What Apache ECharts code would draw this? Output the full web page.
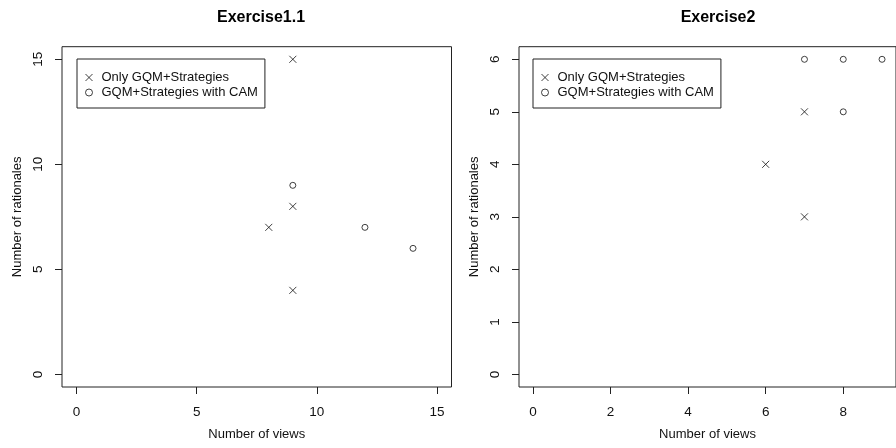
<!DOCTYPE html>
<html><head><meta charset="utf-8">
<script src="https://cdn.jsdelivr.net/npm/echarts@6/dist/echarts.min.js"></script>
<style>html,body{margin:0;padding:0;background:#fff}#c{width:896px;height:448px}</style>
</head><body><div id="c"></div>
<script>
// ---- data ----
const seriesNames = ['Only GQM+Strategies', 'GQM+Strategies with CAM'];
const titles = ['Exercise1.1', 'Exercise2'];
const xName = 'Number of views';
const yName = 'Number of rationales';

const ex1OnlyX = [9, 9, 8, 9];
const ex1OnlyY = [15, 8, 7, 4];
const ex1CamX = [9, 12, 14];
const ex1CamY = [9, 7, 6];

const ex2OnlyX = [6, 7, 7];
const ex2OnlyY = [4, 5, 3];
const ex2CamX = [7, 8, 9, 8];
const ex2CamY = [6, 6, 6, 5];

const ex1XTicks = [0, 5, 10, 15];
const ex1YTicks = [0, 5, 10, 15];
const ex2XTicks = [0, 2, 4, 6, 8];
const ex2YTicks = [0, 1, 2, 3, 4, 5, 6];

// R-style axis ranges (4% extension)
function ext(lo, hi) { const d = (hi - lo) * 0.04; return [lo - d, hi + d]; }
const ex1XR = ext(0, 15), ex1YR = ext(0, 15);
const ex2XR = ext(0, 9), ex2YR = ext(0, 6);

const zip = (a, b) => a.map((v, i) => [v, b[i]]);
const CROSS = 'path://M0,0L10,10M10,0L0,10';
const INK = '#222';
const FONT = 'Liberation Sans, Arial, sans-serif';

function xAxis(gi, r, ticks) {
  return {
    type: 'value', gridIndex: gi, min: r[0], max: r[1], position: 'bottom',
    name: xName, nameLocation: 'middle', nameGap: 41,
    nameTextStyle: { fontSize: 13, color: '#111', fontFamily: FONT },
    splitLine: { show: false }, axisLine: { show: false, onZero: false },
    axisTick: { show: true, length: 7, inside: false, customValues: ticks, lineStyle: { color: INK } },
    axisLabel: { customValues: ticks, fontSize: 13.5, color: '#111', margin: 18, fontFamily: FONT }
  };
}
function yAxis(gi, r, ticks) {
  return {
    type: 'value', gridIndex: gi, min: r[0], max: r[1], position: 'left',
    name: yName, nameLocation: 'middle', nameGap: 38,
    nameTextStyle: { fontSize: 13, color: '#111', fontFamily: FONT },
    splitLine: { show: false }, axisLine: { show: false, onZero: false },
    axisTick: { show: true, length: 7, inside: false, customValues: ticks, lineStyle: { color: INK } },
    axisLabel: { customValues: ticks, fontSize: 13.5, color: '#111', margin: 17, rotate: 90, fontFamily: FONT }
  };
}
function series(name, gi, data, sym) {
  return {
    type: 'scatter', name: name, xAxisIndex: gi, yAxisIndex: gi, data: data,
    symbol: sym, symbolSize: sym === 'circle' ? 6 : 7,
    itemStyle: { color: 'rgba(0,0,0,0)', borderColor: '#111', borderWidth: 1 },
    emphasis: { disabled: true }, animation: false
  };
}
function legend(left) {
  return {
    orient: 'vertical', left: left, top: 59, data: seriesNames,
    borderColor: INK, borderWidth: 1, borderRadius: 0,
    padding: [12, 7, 9, 8], itemGap: 2, itemWidth: 7, itemHeight: 7,
    selectedMode: false,
    itemStyle: { color: 'rgba(0,0,0,0)', borderColor: '#111', borderWidth: 1 },
    textStyle: { fontSize: 13, color: '#111', fontFamily: FONT, padding: [0, 0, 0, 4] }
  };
}

const chart = echarts.init(document.getElementById('c'), null, { renderer: 'canvas' });
chart.setOption({
  animation: false,
  backgroundColor: '#fff',
  title: [
    { text: titles[0], left: 256, top: 5, textAlign: 'center', textStyle: { fontSize: 16, fontWeight: 'bold', color: '#000', fontFamily: FONT } },
    { text: titles[1], left: 713, top: 5, textAlign: 'center', textStyle: { fontSize: 16, fontWeight: 'bold', color: '#000', fontFamily: FONT } }
  ],
  legend: [legend(77), legend(533)],
  grid: [
    { left: 62, top: 46.7, width: 389.5, height: 340.3, show: true, borderColor: INK, borderWidth: 1, backgroundColor: 'transparent', containLabel: false },
    { left: 519, top: 46.7, width: 389.5, height: 340.3, show: true, borderColor: INK, borderWidth: 1, backgroundColor: 'transparent', containLabel: false }
  ],
  xAxis: [xAxis(0, ex1XR, ex1XTicks), xAxis(1, ex2XR, ex2XTicks)],
  yAxis: [yAxis(0, ex1YR, ex1YTicks), yAxis(1, ex2YR, ex2YTicks)],
  series: [
    series(seriesNames[0], 0, zip(ex1OnlyX, ex1OnlyY), CROSS),
    series(seriesNames[1], 0, zip(ex1CamX, ex1CamY), 'circle'),
    series(seriesNames[0], 1, zip(ex2OnlyX, ex2OnlyY), CROSS),
    series(seriesNames[1], 1, zip(ex2CamX, ex2CamY), 'circle')
  ]
});
</script></body></html>
